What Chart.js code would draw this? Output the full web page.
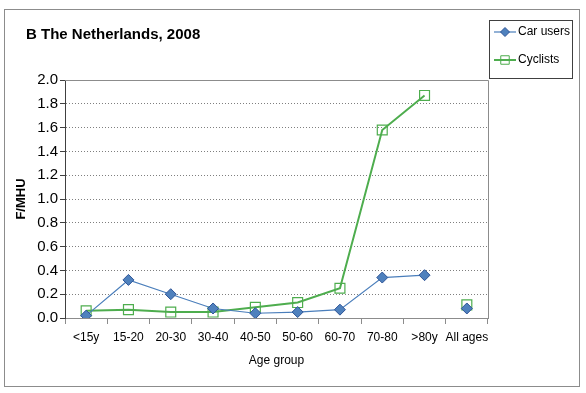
<!DOCTYPE html>
<html>
<head>
<meta charset="utf-8">
<script src="https://cdn.jsdelivr.net/npm/chart.js@4"></script>
<style>
  body { margin: 0; background: #fff; }
  #wrap { width: 586px; height: 393px; }
</style>
</head>
<body>
<div id="wrap"><canvas id="chart" width="586" height="393"></canvas></div>
<script>
// Chart data
const ageGroups = ['<15y', '15-20', '20-30', '30-40', '40-50', '50-60', '60-70', '70-80', '>80y', 'All ages'];
const carUsers = [0.02, 0.32, 0.20, 0.08, 0.04, 0.05, 0.07, 0.34, 0.36, 0.08];
const cyclists = [0.06, 0.07, 0.05, 0.05, 0.09, 0.13, 0.25, 1.58, 1.87, 0.11];
const yTicks = [0, 0.2, 0.4, 0.6, 0.8, 1.0, 1.2, 1.4, 1.6, 1.8, 2.0];

const FONT = "'Liberation Sans', Arial, sans-serif";
const CAR_LINE = '#4a7ebb';
const CAR_FILL = '#4f81bd';
const CAR_EDGE = '#2f5597';
const CYC_LINE = '#4ead4e';

// last point ("All ages") is not joined to the rest
const hideLast = color => ctx => ctx.p1DataIndex === ageGroups.length - 1 ? 'rgba(0,0,0,0)' : color;

// frame, title and legend box
const decorPlugin = {
    id: 'decor',
    beforeDatasetsDraw(chart) {
        const ctx = chart.ctx;
        const a = chart.chartArea;
        ctx.save();
        ctx.strokeStyle = '#8c8c8c';
        ctx.lineWidth = 1;
        ctx.beginPath();
        ctx.moveTo(a.left, a.top + 0.5);
        ctx.lineTo(a.right + 0.5, a.top + 0.5);
        ctx.lineTo(a.right + 0.5, a.bottom);
        ctx.stroke();
        ctx.restore();
    },
    afterDraw(chart) {
        const ctx = chart.ctx;
        ctx.save();
        // outer frame
        ctx.strokeStyle = '#8c8c8c';
        ctx.lineWidth = 1;
        ctx.strokeRect(4.5, 9.5, 575, 377);
        // title
        ctx.fillStyle = '#000';
        ctx.font = 'bold 15px ' + FONT;
        ctx.textBaseline = 'alphabetic';
        ctx.fillText('B The Netherlands, 2008', 26, 39);
        // legend
        ctx.strokeStyle = '#404040';
        ctx.strokeRect(489.5, 20.5, 83, 58);
        const items = [
            { label: 'Car users', ds: chart.data.datasets[0], y: 32 },
            { label: 'Cyclists', ds: chart.data.datasets[1], y: 60 }
        ];
        items.forEach(it => {
            ctx.strokeStyle = it.ds.borderColor;
            ctx.lineWidth = it.ds.borderWidth;
            ctx.beginPath();
            ctx.moveTo(494, it.y);
            ctx.lineTo(516, it.y);
            ctx.stroke();
            ctx.fillStyle = it.ds.pointBackgroundColor;
            ctx.strokeStyle = it.ds.pointBorderColor;
            ctx.lineWidth = 1;
            Chart.helpers.drawPoint(ctx, {
                pointStyle: it.ds.pointStyle,
                radius: it.ds.pointRadius - 1,
                borderWidth: 1
            }, 505, it.y);
            ctx.fillStyle = '#000';
            ctx.font = '12px ' + FONT;
            ctx.textBaseline = 'middle';
            ctx.fillText(it.label, 518, it.y);
        });
        ctx.restore();
    }
};

new Chart(document.getElementById('chart'), {
    type: 'line',
    data: {
        labels: ageGroups,
        datasets: [{
            label: 'Car users',
            data: carUsers,
            borderColor: CAR_LINE,
            borderWidth: 1.2,
            pointStyle: 'rectRot',
            pointRadius: 5.5,
            pointBackgroundColor: CAR_FILL,
            pointBorderColor: CAR_EDGE,
            pointBorderWidth: 1,
            segment: { borderColor: hideLast(CAR_LINE) },
            order: 1
        }, {
            label: 'Cyclists',
            data: cyclists,
            borderColor: CYC_LINE,
            borderWidth: 2,
            pointStyle: 'rect',
            pointRadius: 7,
            pointBackgroundColor: 'rgba(255,255,255,0)',
            pointBorderColor: CYC_LINE,
            pointBorderWidth: 1.2,
            segment: { borderColor: hideLast(CYC_LINE) },
            order: 2
        }]
    },
    options: {
        responsive: false,
        animation: false,
        layout: { padding: { left: 0, top: 80, right: 98, bottom: 0 } },
        plugins: {
            legend: { display: false },
            tooltip: { enabled: false }
        },
        scales: {
            x: {
                offset: true,
                grid: {
                    offset: true,
                    drawOnChartArea: false,
                    drawTicks: true,
                    tickLength: 6,
                    color: '#8c8c8c'
                },
                border: { color: '#8c8c8c' },
                ticks: {
                    color: '#000',
                    padding: 6,
                    maxRotation: 0,
                    autoSkip: false,
                    font: { family: FONT, size: 12 }
                },
                title: {
                    display: true,
                    text: 'Age group',
                    color: '#000',
                    font: { family: FONT, size: 12 },
                    padding: { top: 0, bottom: 25 }
                },
                afterFit(scale) { scale.height = 75; }
            },
            y: {
                min: 0,
                max: 2,
                afterBuildTicks(scale) { scale.ticks = yTicks.map(v => ({ value: v })); },
                grid: {
                    color: ctx => (ctx.tick && (ctx.tick.value === 0 || ctx.tick.value === 2)) ? 'rgba(0,0,0,0)' : '#7f7f7f',
                    tickColor: '#404040',
                    drawTicks: true,
                    tickLength: 5
                },
                border: { color: '#404040', dash: [1, 2] },
                ticks: {
                    color: '#000',
                    padding: 2,
                    font: { family: FONT, size: 15 },
                    callback: v => v.toFixed(1)
                },
                title: {
                    display: true,
                    text: 'F/MHU',
                    color: '#000',
                    font: { family: FONT, size: 13, weight: 'bold' },
                    padding: { top: 14, bottom: 0 }
                },
                afterFit(scale) { scale.width = 65; }
            }
        }
    },
    plugins: [decorPlugin]
});
</script>
</body>
</html>
